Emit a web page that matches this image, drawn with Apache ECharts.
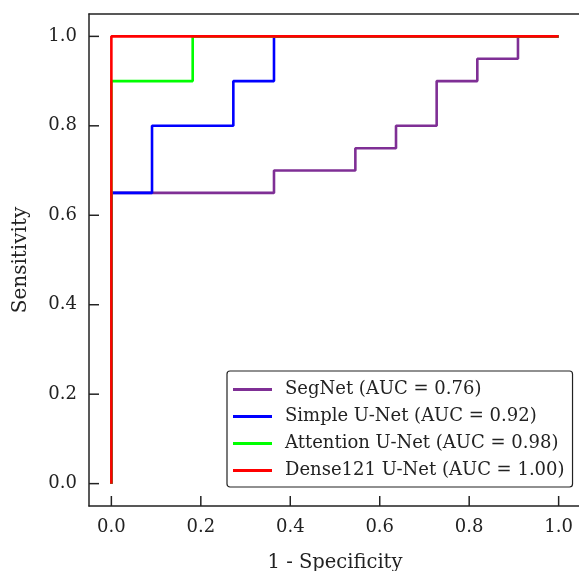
<!DOCTYPE html>
<html>
<head>
<meta charset="utf-8">
<script src="https://cdn.jsdelivr.net/npm/echarts@6/dist/echarts.min.js"></script>
<style>
  html, body { margin: 0; padding: 0; background: #fff; }
  #main { width: 579px; height: 571px; }
</style>
</head>
<body>
<div id="main"></div>
<script>
// ROC curves, x = 1 - specificity, y = sensitivity
var tickValues = [0.0, 0.2, 0.4, 0.6, 0.8, 1.0];
var axisMin = -0.05, axisMax = 1.05;

var segnetX = [0, 0, 0.0909, 0.3636, 0.3636, 0.5455, 0.5455, 0.6364, 0.6364, 0.7273, 0.7273, 0.8182, 0.8182, 0.9091, 0.9091, 1.0];
var segnetY = [0, 0.65, 0.65, 0.65, 0.70, 0.70, 0.75, 0.75, 0.80, 0.80, 0.90, 0.90, 0.95, 0.95, 1.0, 1.0];

var simpleX = [0, 0, 0.0909, 0.0909, 0.2727, 0.2727, 0.3636, 0.3636, 1.0];
var simpleY = [0, 0.65, 0.65, 0.80, 0.80, 0.90, 0.90, 1.0, 1.0];

var attentionX = [0, 0, 0.1818, 0.1818, 1.0];
var attentionY = [0, 0.90, 0.90, 1.0, 1.0];

var denseX = [0, 0, 1.0];
var denseY = [0, 1.0, 1.0];

var seriesNames = ['SegNet (AUC = 0.76)', 'Simple U-Net (AUC = 0.92)', 'Attention U-Net (AUC = 0.98)', 'Dense121 U-Net (AUC = 1.00)'];
var seriesColors = ['#7f2f95', '#0000ff', '#00ff00', '#ff0000'];

function pairs(xs, ys) {
  var out = [];
  for (var i = 0; i < xs.length; i++) out.push([xs[i], ys[i]]);
  return out;
}

var curves = [pairs(segnetX, segnetY), pairs(simpleX, simpleY), pairs(attentionX, attentionY), pairs(denseX, denseY)];

var font = 'DejaVu Serif';
var ink = '#222';

// tick rows: [value, 0 = x axis / 1 = y axis]
var tickRows = [];
tickValues.forEach(function (v) { tickRows.push([v, 0]); tickRows.push([v, 1]); });

// plain spine for the top / right sides
function spine(pos) {
  return {
    type: 'value', min: axisMin, max: axisMax, position: pos,
    axisLine: { show: true, onZero: false, lineStyle: { color: ink, width: 1.5 } },
    axisTick: { show: false }, axisLabel: { show: false }, splitLine: { show: false }
  };
}

var series = curves.map(function (d, i) {
  return {
    name: seriesNames[i],
    type: 'line',
    data: d,
    symbol: 'none',
    lineStyle: { color: seriesColors[i], width: 2.6 },
    itemStyle: { color: seriesColors[i] },
    z: 2 + i
  };
});

// inward ticks, placed through the axis scales
series.push({
  type: 'custom',
  silent: true,
  clip: false,
  z: 1,
  data: tickRows,
  renderItem: function (params, api) {
    var v = api.value(0), onY = api.value(1) === 1;
    var p = onY ? api.coord([axisMin, v]) : api.coord([v, axisMin]);
    var q = onY ? [p[0] + 10, p[1]] : [p[0], p[1] - 10];
    return {
      type: 'line',
      shape: { x1: p[0], y1: p[1], x2: q[0], y2: q[1] },
      style: { stroke: ink, lineWidth: 1.5 }
    };
  }
});

var chart = echarts.init(document.getElementById('main'));
chart.setOption({
  animation: false,
  textStyle: { fontFamily: font },
  grid: {
    left: 89, top: 14, width: 492, height: 492,
    outerBoundsMode: 'none', containLabel: false
  },
  legend: {
    orient: 'vertical',
    left: 227, top: 371,
    padding: [8, 8, 6, 6],
    icon: 'rect',
    itemWidth: 39, itemHeight: 3, itemGap: 6,
    borderColor: ink, borderWidth: 1.2, borderRadius: 3,
    textStyle: { fontFamily: font, fontSize: 18, color: ink, lineHeight: 21, padding: [0, 0, 0, 8] },
    data: seriesNames
  },
  xAxis: [{
    type: 'value', min: axisMin, max: axisMax, position: 'bottom',
    name: '1 - Specificity', nameLocation: 'middle', nameGap: 47,
    nameTextStyle: { fontFamily: font, fontSize: 19.5, color: ink },
    axisLine: { show: true, onZero: false, lineStyle: { color: ink, width: 1.5 } },
    axisTick: { show: false },
    axisLabel: { customValues: tickValues, margin: 12, fontFamily: font, fontSize: 18, color: ink,
      formatter: function (v) { return v.toFixed(1); } },
    splitLine: { show: false }
  }, spine('top')],
  yAxis: [{
    type: 'value', min: axisMin, max: axisMax, position: 'left',
    name: 'Sensitivity', nameLocation: 'middle', nameGap: 58,
    nameTextStyle: { fontFamily: font, fontSize: 20, color: ink },
    axisLine: { show: true, onZero: false, lineStyle: { color: ink, width: 1.5 } },
    axisTick: { show: false },
    axisLabel: { customValues: tickValues, margin: 12, fontFamily: font, fontSize: 18, color: ink,
      formatter: function (v) { return v.toFixed(1); } },
    splitLine: { show: false }
  }, spine('right')],
  series: series
});
</script>
</body>
</html>
